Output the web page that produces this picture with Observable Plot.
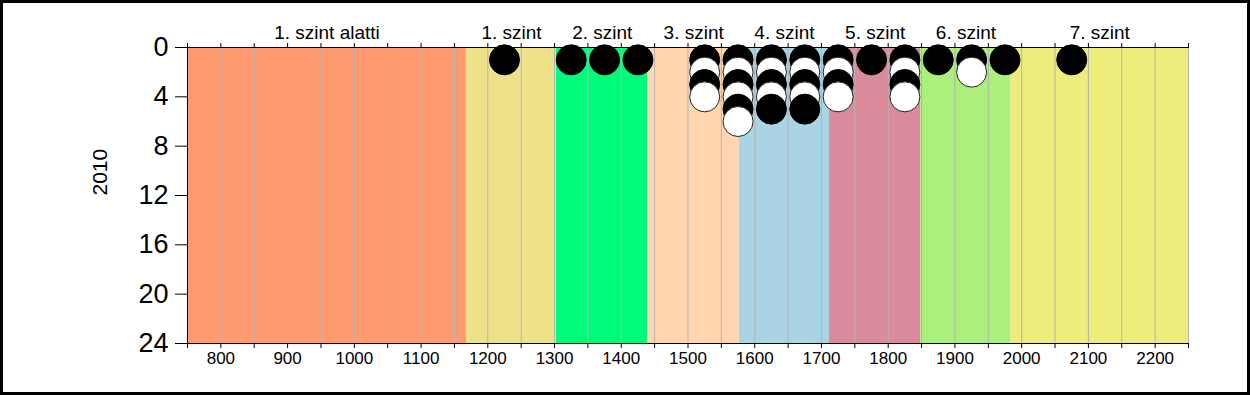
<!DOCTYPE html>
<html>
<head>
<meta charset="utf-8">
<script src="https://cdn.jsdelivr.net/npm/d3@7"></script>
<script src="https://cdn.jsdelivr.net/npm/@observablehq/plot@0.6"></script>
<style>
  html, body { margin: 0; padding: 0; background: #fff; }
  #frame { width: 1250px; height: 395px; box-sizing: border-box; border: 3px solid #000; overflow: hidden; }
  #frame svg { display: block; }
</style>
</head>
<body>
<div id="frame"></div>
<script>
// Level bands (kompetencia szintek)
const levelNames = ["1. szint alatti", "1. szint", "2. szint", "3. szint", "4. szint", "5. szint", "6. szint", "7. szint"];
const levelBounds = [750, 1168, 1303, 1440, 1577, 1712, 1849, 1984, 2250];
const levelColors = ["#ff9a71", "#eee288", "#00fa7a", "#ffd6b0", "#a8d4e4", "#d98a9b", "#abf07b", "#eeed7c"];

// Dot columns: bin centre and stacked dots from the top (value 1) downward; B = black, W = white
const binCenters = [1225, 1325, 1375, 1425, 1525, 1575, 1625, 1675, 1725, 1775, 1825, 1875, 1925, 1975, 2075];
const binStacks = ["B", "B", "B", "B", "BWBW", "BWBWBW", "BWBWB", "BWBWB", "BWBW", "B", "BWBW", "B", "BW", "B", "B"];

// Axis ticks
const xTicks = d3.range(750, 2251, 50);
const yTicks = [0, 4, 8, 12, 16, 20, 24];
const yLabel = "2010";

const bands = levelNames.map((name, i) => ({name, x1: levelBounds[i], x2: levelBounds[i + 1], color: levelColors[i]}));
const dots = binCenters.flatMap((x, i) => binStacks[i].split("").map((c, j) => ({x, y: j + 1, black: c === "B"})))
  .sort((a, b) => a.y - b.y);

const font = "'Liberation Sans', Arial, sans-serif";

const chart = Plot.plot({
  width: 1244,
  height: 389,
  marginLeft: 184,
  marginRight: 59,
  marginTop: 44,
  marginBottom: 49,
  style: {fontFamily: font, background: "#fff", color: "#000"},
  x: {domain: [750, 2250]},
  y: {domain: [0, 24], reverse: true},
  marks: [
    Plot.rect(bands, {x1: "x1", x2: "x2", y1: 0, y2: 24, fill: "color"}),
    Plot.ruleX(xTicks, {stroke: "#b3b3b3", strokeWidth: 1}),
    Plot.ruleY([0, 24], {stroke: "#000", strokeWidth: 1}),
    Plot.ruleX([750], {stroke: "#000", strokeWidth: 1}),
    Plot.axisX({anchor: "bottom", ticks: xTicks, tickSize: 5, tickPadding: 3,
      tickFormat: d => d % 100 === 0 ? String(d) : "", fontSize: 17, label: null}),
    Plot.axisX({anchor: "top", ticks: xTicks, tickSize: 5, tickFormat: () => "", label: null}),
    Plot.axisY({anchor: "left", ticks: yTicks, tickSize: 12, tickPadding: 7, fontSize: 27, label: null}),
    Plot.text(bands, {x: d => (d.x1 + d.x2) / 2, frameAnchor: "top", dy: -22, text: "name", fontSize: 19, fill: "#000"}),
    Plot.text([yLabel], {text: d => d, frameAnchor: "left", dx: -87, rotate: -90, fontSize: 21, fill: "#000"}),
    Plot.dot(dots, {x: "x", y: "y", r: 15, fill: d => d.black ? "#000" : "#fff",
      stroke: d => d.black ? "#000" : "#222", strokeWidth: 1})
  ]
});
document.getElementById("frame").appendChild(chart);
</script>
</body>
</html>
